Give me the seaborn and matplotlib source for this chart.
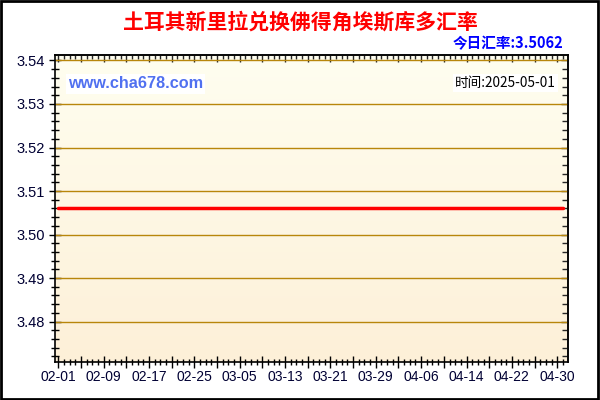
import numpy as np
import pandas as pd
import matplotlib
matplotlib.use("Agg")
import matplotlib.pyplot as plt
import matplotlib.dates as mdates
from matplotlib.ticker import MultipleLocator, FuncFormatter, NullFormatter
from matplotlib.patches import Rectangle
import seaborn as sns

# ---------------- data ----------------
dates = ["2025-02-01", "2025-05-01"]
rates = [3.5062, 3.5062]
today_rate = "3.5062"
update_day = "2025-05-01"
y_ticks = [3.48, 3.49, 3.50, 3.51, 3.52, 3.53, 3.54]

df = pd.DataFrame({"date": pd.to_datetime(dates), "rate": rates})

# ---------------- style ----------------
sns.set_style("ticks")
plt.rcParams['font.family'] = ['Liberation Sans', 'Noto Sans CJK SC', 'DejaVu Sans']

fig = plt.figure(figsize=(6, 4), dpi=100)
ax = fig.add_axes([55 / 600, 1 - 362 / 400, 513 / 600, 307 / 400])

# gradient background (light yellow -> light peach)
grad = np.linspace(0, 1, 256).reshape(-1, 1)
top_c = np.array([255, 254, 240]) / 255
bot_c = np.array([253, 240, 216]) / 255
img = top_c + (bot_c - top_c) * grad
x0 = mdates.date2num(pd.Timestamp("2025-02-01")) - 0.58
x1 = mdates.date2num(pd.Timestamp("2025-02-01")) + 89.9
y0, y1 = 3.4707, 3.54126
ax.imshow(img[:, None, :].repeat(2, axis=1), extent=[x0, x1, y0, y1],
          aspect="auto", zorder=0, interpolation="bilinear")

# grid lines
for yv in y_ticks:
    ax.axhline(yv, color="#b8860b", lw=1, zorder=1)

sns.lineplot(data=df, x="date", y="rate", color="#ff0000", lw=2.5, ax=ax, zorder=3)

ax.set_xlim(x0, x1)
ax.set_ylim(y0, y1)
ax.set_xlabel("")
ax.set_ylabel("")

ax.set_yticks(y_ticks)
ax.yaxis.set_minor_locator(MultipleLocator(0.002))
ax.yaxis.set_major_formatter(FuncFormatter(lambda v, p: f"{v:.2f}"))

ax.xaxis.set_major_locator(MultipleLocator(4))
ax.xaxis.set_minor_locator(MultipleLocator(1))


def date_label(v, p):
    if int(round(v)) % 8 != 0:
        return ""
    return mdates.num2date(v).strftime("%m-%d")


ax.xaxis.set_major_formatter(FuncFormatter(date_label))

for s in ax.spines.values():
    s.set_color("black")
    s.set_linewidth(1.2)
    s.set_zorder(5)

ax.tick_params(axis="both", which="both", colors="black", top=False, right=False)
ax.tick_params(axis="x", which="major", direction="inout", length=8, width=1,
               labelsize=10, pad=2, labelcolor="#000033")
ax.tick_params(axis="x", which="minor", direction="inout", length=5, width=1)
ax.tick_params(axis="y", which="major", direction="inout", length=9, width=1,
               labelsize=10.5, pad=3, labelcolor="#000033")
ax.tick_params(axis="y", which="minor", direction="inout", length=6, width=1)

# top and right ticks point inward only
top = ax.secondary_xaxis("top")
top.xaxis.set_major_locator(MultipleLocator(4))
top.xaxis.set_minor_locator(MultipleLocator(1))
top.xaxis.set_major_formatter(NullFormatter())
top.tick_params(which="major", direction="in", length=5, width=1)
top.tick_params(which="minor", direction="in", length=3, width=1)
top.spines["top"].set_linewidth(1.2)

right = ax.secondary_yaxis("right")
right.set_yticks(y_ticks)
right.yaxis.set_minor_locator(MultipleLocator(0.002))
right.yaxis.set_major_formatter(NullFormatter())
right.tick_params(which="major", direction="in", length=5, width=1)
right.tick_params(which="minor", direction="in", length=4, width=1)
right.spines["right"].set_linewidth(1.2)

# titles and notes
fig.text(0.5, 0.945, "土耳其新里拉兑换佛得角埃斯库多汇率", ha="center", va="center",
         color="#ff0000", fontsize=15, fontweight="bold",
         family=["Noto Sans CJK SC", "DejaVu Sans"])
fig.text(563 / 600, 1 - 43 / 400, "今日汇率:" + today_rate, ha="right", va="center",
         color="#0000ff", fontsize=10.5, fontweight="bold",
         family=["Noto Sans CJK SC", "DejaVu Sans"])
fig.text(68 / 600, 1 - 84 / 400, "www.cha678.com", ha="left", va="center",
         color="#5070f0", fontsize=11.7, fontweight="bold", zorder=10,
         bbox=dict(facecolor="white", edgecolor="none", pad=1.5))
fig.text(556 / 600, 1 - 83 / 400, "时间:" + update_day, ha="right", va="center",
         color="black", fontsize=9.8, zorder=10,
         family=["Noto Sans CJK SC", "DejaVu Sans"],
         bbox=dict(facecolor="white", edgecolor="none", pad=1.5))

# outer border
fig.patches.append(Rectangle((0.002, 0.003), 0.995, 0.994, transform=fig.transFigure,
                             fill=False, edgecolor="black", lw=2))

fig.savefig("out.png", dpi=100)
